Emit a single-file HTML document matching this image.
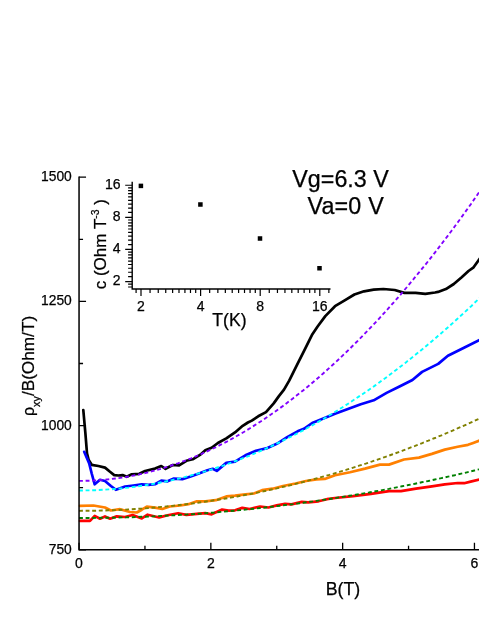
<!DOCTYPE html>
<html><head><meta charset="utf-8"><title>chart</title>
<style>html,body{margin:0;padding:0;background:#fff;}body{width:479px;height:620px;overflow:hidden;font-family:"Liberation Sans",sans-serif;}</style>
</head><body>
<svg width="479" height="620" viewBox="0 0 479 620" style="display:block;will-change:transform;opacity:0.999">
<rect width="479" height="620" fill="#fff"/>
<g>
<polyline points="83.3,410.0 85.4,433.4 87.0,453.4 88.7,460.0 91.7,464.8 98.4,466.0 105.0,467.6 110.0,471.8 114.2,475.1 118.4,475.5 122.6,475.1 126.7,476.8 131.8,474.3 139.3,473.8 145.1,471.0 155.0,468.6 161.3,466.0 165.5,468.8 172.8,465.0 179.1,465.4 186.4,460.8 192.7,459.3 200.0,454.9 205.3,450.3 211.6,447.8 217.9,443.0 226.3,438.4 235.0,432.4 242.7,425.8 247.9,422.5 251.8,420.6 258.2,416.3 266.0,412.1 273.7,403.4 278.9,396.1 284.0,389.7 289.2,380.6 296.9,365.2 304.7,349.7 312.4,334.2 317.6,326.5 325.3,316.1 335.0,306.2 344.7,300.3 354.4,294.5 364.0,291.3 373.7,289.7 383.4,289.0 394.7,290.0 404.4,292.9 415.6,292.9 425.3,293.9 435.0,292.5 438.0,291.9 445.9,289.1 453.8,284.0 461.7,277.2 468.5,271.0 473.6,267.3 480.0,258.4" fill="none" stroke="#000" stroke-width="2.7" stroke-linejoin="round" stroke-linecap="round"/>
<polyline points="84.2,451.8 89.2,463.4 91.7,473.5 94.7,484.3 100.0,479.8 105.0,481.0 110.9,486.0 115.9,489.8 125.1,486.5 133.4,485.5 141.8,484.3 148.5,484.8 155.0,484.2 161.3,480.7 167.6,481.3 173.9,478.6 182.3,479.2 190.6,476.5 199.0,473.4 207.4,470.2 212.7,468.8 216.8,470.9 226.3,462.9 235.0,461.7 245.4,455.3 255.9,450.7 266.3,448.4 276.8,443.8 287.2,437.2 297.6,431.3 303.9,428.8 312.2,423.0 322.7,418.8 335.0,413.8 347.9,409.0 360.8,404.2 373.7,400.3 386.6,392.9 399.5,386.5 412.4,380.0 422.1,371.9 438.2,363.9 447.9,355.8 464.0,347.7 480.0,339.8" fill="none" stroke="#0000ff" stroke-width="2.7" stroke-linejoin="round" stroke-linecap="round"/>
<polyline points="80.0,505.9 93.4,505.5 105.0,507.5 110.9,510.5 120.0,509.2 130.0,512.0 136.8,512.5 141.8,509.7 146.8,506.7 155.0,507.6 162.3,509.0 169.7,506.5 180.2,505.5 188.5,504.2 196.9,501.3 205.3,501.3 215.8,500.2 226.3,496.4 235.0,495.7 245.4,494.4 253.8,493.5 262.1,490.2 272.6,488.7 283.0,486.0 295.5,483.5 306.0,481.0 316.4,479.3 324.8,478.9 335.0,475.2 350.0,472.2 365.0,468.6 380.0,464.6 389.0,464.6 404.0,459.5 419.0,457.6 431.9,453.9 444.8,449.6 457.7,446.8 468.0,444.8 473.2,442.9 480.0,440.3" fill="none" stroke="#ff8000" stroke-width="2.7" stroke-linejoin="round" stroke-linecap="round"/>
<polyline points="80.0,520.9 90.0,520.9 94.7,515.9 100.0,518.7 105.0,516.4 110.0,518.7 116.7,516.4 125.0,517.0 132.6,515.0 141.8,518.4 147.6,514.7 155.0,516.5 159.2,517.4 167.6,515.3 178.1,513.2 186.4,514.9 196.9,513.8 205.3,513.2 211.6,514.3 222.1,509.6 228.4,510.7 235.0,510.3 242.3,507.9 249.6,509.0 260.0,506.5 268.4,507.5 276.8,505.4 285.1,503.8 291.4,504.4 301.8,501.9 308.1,502.3 318.5,501.3 326.9,499.2 335.0,498.0 353.0,496.2 371.0,493.8 389.0,491.1 401.0,491.1 416.0,488.7 431.9,486.3 444.8,484.4 457.7,483.0 464.2,483.2 470.6,481.6 480.0,479.5" fill="none" stroke="#ff0000" stroke-width="2.7" stroke-linejoin="round" stroke-linecap="round"/>
<polyline points="79.0,480.9 82.3,480.9 85.6,480.8 88.9,480.7 92.2,480.6 95.5,480.4 98.8,480.2 102.1,479.9 105.4,479.6 108.7,479.3 112.0,478.9 115.3,478.5 118.6,478.1 121.9,477.6 125.2,477.1 128.5,476.5 131.8,475.9 135.1,475.2 138.4,474.6 141.7,473.8 145.0,473.1 148.2,472.3 151.5,471.4 154.8,470.5 158.1,469.6 161.4,468.7 164.7,467.7 168.0,466.6 171.3,465.5 174.6,464.4 177.9,463.3 181.2,462.1 184.5,460.9 187.8,459.6 191.1,458.3 194.4,456.9 197.7,455.5 201.0,454.1 204.3,452.6 207.6,451.1 210.9,449.6 214.1,448.0 217.4,446.4 220.7,444.7 224.0,443.0 227.3,441.3 230.6,439.5 233.9,437.7 237.2,435.8 240.5,433.9 243.8,432.0 247.1,430.0 250.4,428.0 253.7,425.9 257.0,423.8 260.3,421.7 263.6,419.5 266.9,417.3 270.2,415.0 273.5,412.8 276.7,410.4 280.0,408.1 283.3,405.7 286.6,403.2 289.9,400.7 293.2,398.2 296.5,395.6 299.8,393.0 303.1,390.4 306.4,387.7 309.7,385.0 313.0,382.2 316.3,379.4 319.6,376.6 322.9,373.7 326.2,370.8 329.5,367.8 332.8,364.8 336.1,361.8 339.4,358.7 342.6,355.6 345.9,352.5 349.2,349.3 352.5,346.0 355.8,342.8 359.1,339.5 362.4,336.1 365.7,332.7 369.0,329.3 372.3,325.8 375.6,322.3 378.9,318.8 382.2,315.2 385.5,311.6 388.8,307.9 392.1,304.2 395.4,300.5 398.7,296.7 402.0,292.9 405.3,289.0 408.5,285.2 411.8,281.2 415.1,277.2 418.4,273.2 421.7,269.2 425.0,265.1 428.3,261.0 431.6,256.8 434.9,252.6 438.2,248.3 441.5,244.0 444.8,239.7 448.1,235.4 451.4,231.0 454.7,226.5 458.0,222.0 461.3,217.5 464.6,212.9 467.9,208.3 471.2,203.7 474.4,199.0 477.7,194.3 481.0,189.6" fill="none" stroke="#8000ff" stroke-width="1.9" stroke-dasharray="3.9 2.7"/>
<polyline points="79.0,490.5 82.3,490.5 85.6,490.4 88.9,490.4 92.2,490.3 95.5,490.2 98.8,490.0 102.1,489.8 105.4,489.6 108.7,489.4 112.0,489.2 115.3,488.9 118.6,488.6 121.9,488.3 125.2,487.9 128.5,487.6 131.8,487.1 135.1,486.7 138.4,486.3 141.7,485.8 145.0,485.3 148.2,484.7 151.5,484.2 154.8,483.6 158.1,483.0 161.4,482.3 164.7,481.7 168.0,481.0 171.3,480.3 174.6,479.5 177.9,478.8 181.2,478.0 184.5,477.2 187.8,476.3 191.1,475.4 194.4,474.5 197.7,473.6 201.0,472.7 204.3,471.7 207.6,470.7 210.9,469.7 214.1,468.6 217.4,467.5 220.7,466.4 224.0,465.3 227.3,464.1 230.6,462.9 233.9,461.7 237.2,460.5 240.5,459.2 243.8,457.9 247.1,456.6 250.4,455.3 253.7,453.9 257.0,452.5 260.3,451.1 263.6,449.7 266.9,448.2 270.2,446.7 273.5,445.2 276.7,443.6 280.0,442.0 283.3,440.4 286.6,438.8 289.9,437.2 293.2,435.5 296.5,433.8 299.8,432.1 303.1,430.3 306.4,428.5 309.7,426.7 313.0,424.9 316.3,423.0 319.6,421.1 322.9,419.2 326.2,417.3 329.5,415.3 332.8,413.3 336.1,411.3 339.4,409.2 342.6,407.2 345.9,405.1 349.2,403.0 352.5,400.8 355.8,398.6 359.1,396.4 362.4,394.2 365.7,392.0 369.0,389.7 372.3,387.4 375.6,385.1 378.9,382.7 382.2,380.3 385.5,377.9 388.8,375.5 392.1,373.0 395.4,370.5 398.7,368.0 402.0,365.5 405.3,362.9 408.5,360.3 411.8,357.7 415.1,355.1 418.4,352.4 421.7,349.7 425.0,347.0 428.3,344.2 431.6,341.5 434.9,338.7 438.2,335.8 441.5,333.0 444.8,330.1 448.1,327.2 451.4,324.3 454.7,321.3 458.0,318.3 461.3,315.3 464.6,312.3 467.9,309.2 471.2,306.2 474.4,303.0 477.7,299.9 481.0,296.7" fill="none" stroke="#00ffff" stroke-width="1.9" stroke-dasharray="3.9 2.7"/>
<polyline points="79.0,510.9 82.3,510.8 85.6,510.8 88.9,510.8 92.2,510.8 95.5,510.7 98.8,510.6 102.1,510.5 105.4,510.5 108.7,510.3 112.0,510.2 115.3,510.1 118.6,510.0 121.9,509.8 125.2,509.6 128.5,509.4 131.8,509.3 135.1,509.0 138.4,508.8 141.7,508.6 145.0,508.4 148.2,508.1 151.5,507.8 154.8,507.5 158.1,507.3 161.4,506.9 164.7,506.6 168.0,506.3 171.3,506.0 174.6,505.6 177.9,505.2 181.2,504.8 184.5,504.5 187.8,504.0 191.1,503.6 194.4,503.2 197.7,502.8 201.0,502.3 204.3,501.8 207.6,501.3 210.9,500.9 214.1,500.3 217.4,499.8 220.7,499.3 224.0,498.8 227.3,498.2 230.6,497.6 233.9,497.1 237.2,496.5 240.5,495.9 243.8,495.2 247.1,494.6 250.4,494.0 253.7,493.3 257.0,492.6 260.3,492.0 263.6,491.3 266.9,490.6 270.2,489.8 273.5,489.1 276.7,488.4 280.0,487.6 283.3,486.8 286.6,486.1 289.9,485.3 293.2,484.5 296.5,483.6 299.8,482.8 303.1,482.0 306.4,481.1 309.7,480.2 313.0,479.4 316.3,478.5 319.6,477.6 322.9,476.6 326.2,475.7 329.5,474.8 332.8,473.8 336.1,472.8 339.4,471.9 342.6,470.9 345.9,469.9 349.2,468.8 352.5,467.8 355.8,466.8 359.1,465.7 362.4,464.6 365.7,463.6 369.0,462.5 372.3,461.4 375.6,460.2 378.9,459.1 382.2,458.0 385.5,456.8 388.8,455.7 392.1,454.5 395.4,453.3 398.7,452.1 402.0,450.9 405.3,449.6 408.5,448.4 411.8,447.1 415.1,445.9 418.4,444.6 421.7,443.3 425.0,442.0 428.3,440.7 431.6,439.3 434.9,438.0 438.2,436.6 441.5,435.3 444.8,433.9 448.1,432.5 451.4,431.1 454.7,429.7 458.0,428.2 461.3,426.8 464.6,425.3 467.9,423.9 471.2,422.4 474.4,420.9 477.7,419.4 481.0,417.9" fill="none" stroke="#808000" stroke-width="1.9" stroke-dasharray="3.9 2.7"/>
<polyline points="79.0,518.0 82.3,518.0 85.6,518.0 88.9,518.0 92.2,518.0 95.5,517.9 98.8,517.9 102.1,517.8 105.4,517.8 108.7,517.7 112.0,517.7 115.3,517.6 118.6,517.5 121.9,517.4 125.2,517.4 128.5,517.3 131.8,517.2 135.1,517.1 138.4,516.9 141.7,516.8 145.0,516.7 148.2,516.6 151.5,516.4 154.8,516.3 158.1,516.1 161.4,515.9 164.7,515.8 168.0,515.6 171.3,515.4 174.6,515.2 177.9,515.0 181.2,514.8 184.5,514.6 187.8,514.4 191.1,514.2 194.4,514.0 197.7,513.7 201.0,513.5 204.3,513.2 207.6,513.0 210.9,512.7 214.1,512.5 217.4,512.2 220.7,511.9 224.0,511.6 227.3,511.3 230.6,511.0 233.9,510.7 237.2,510.4 240.5,510.1 243.8,509.8 247.1,509.4 250.4,509.1 253.7,508.7 257.0,508.4 260.3,508.0 263.6,507.7 266.9,507.3 270.2,506.9 273.5,506.5 276.7,506.1 280.0,505.7 283.3,505.3 286.6,504.9 289.9,504.5 293.2,504.1 296.5,503.6 299.8,503.2 303.1,502.8 306.4,502.3 309.7,501.8 313.0,501.4 316.3,500.9 319.6,500.4 322.9,499.9 326.2,499.5 329.5,499.0 332.8,498.5 336.1,497.9 339.4,497.4 342.6,496.9 345.9,496.4 349.2,495.8 352.5,495.3 355.8,494.7 359.1,494.2 362.4,493.6 365.7,493.0 369.0,492.5 372.3,491.9 375.6,491.3 378.9,490.7 382.2,490.1 385.5,489.5 388.8,488.9 392.1,488.2 395.4,487.6 398.7,487.0 402.0,486.3 405.3,485.7 408.5,485.0 411.8,484.4 415.1,483.7 418.4,483.0 421.7,482.3 425.0,481.6 428.3,481.0 431.6,480.3 434.9,479.5 438.2,478.8 441.5,478.1 444.8,477.4 448.1,476.6 451.4,475.9 454.7,475.2 458.0,474.4 461.3,473.6 464.6,472.9 467.9,472.1 471.2,471.3 474.4,470.5 477.7,469.7 481.0,468.9" fill="none" stroke="#008000" stroke-width="1.9" stroke-dasharray="3.9 2.7"/>
</g>
<path d="M79.05,176.50 V550.50 M78.35,549.8 H479" fill="none" stroke="#000" stroke-width="1.5"/>
<path d="M79.05,549.80 h7 M79.05,425.60 h7 M79.05,301.40 h7 M79.05,177.20 h7 M79.05,487.70 h4 M79.05,363.50 h4 M79.05,239.30 h4 M79.05,549.8 v-7 M210.85,549.8 v-7 M342.65,549.8 v-7 M474.45,549.8 v-7 M144.95,549.8 v-4 M276.75,549.8 v-4 M408.55,549.8 v-4" fill="none" stroke="#000" stroke-width="1.3"/>
<text x="71.8" y="553.7" font-family="Liberation Sans, sans-serif" stroke="#000" stroke-width="0.25" font-size="13.8" text-anchor="end">750</text>
<text x="71.8" y="429.5" font-family="Liberation Sans, sans-serif" stroke="#000" stroke-width="0.25" font-size="13.8" text-anchor="end">1000</text>
<text x="71.8" y="305.3" font-family="Liberation Sans, sans-serif" stroke="#000" stroke-width="0.25" font-size="13.8" text-anchor="end">1250</text>
<text x="71.8" y="181.1" font-family="Liberation Sans, sans-serif" stroke="#000" stroke-width="0.25" font-size="13.8" text-anchor="end">1500</text>
<text x="79.0" y="567.8" font-family="Liberation Sans, sans-serif" stroke="#000" stroke-width="0.25" font-size="14" text-anchor="middle">0</text>
<text x="210.9" y="567.8" font-family="Liberation Sans, sans-serif" stroke="#000" stroke-width="0.25" font-size="14" text-anchor="middle">2</text>
<text x="342.7" y="567.8" font-family="Liberation Sans, sans-serif" stroke="#000" stroke-width="0.25" font-size="14" text-anchor="middle">4</text>
<text x="474.5" y="567.8" font-family="Liberation Sans, sans-serif" stroke="#000" stroke-width="0.25" font-size="14" text-anchor="middle">6</text>
<text x="343" y="595" font-family="Liberation Sans, sans-serif" stroke="#000" stroke-width="0.25" font-size="17.8" text-anchor="middle">B(T)</text>
<text transform="translate(34,416) rotate(-90)" font-family="Liberation Sans, sans-serif" stroke="#000" stroke-width="0.25" font-size="17.2"><tspan font-size="16">ρ</tspan><tspan font-size="10.8" dy="5.8">xy</tspan><tspan dy="-5.8">/B(Ohm/T)</tspan></text>
<text x="292.3" y="186.7" font-family="Liberation Sans, sans-serif" stroke="#000" stroke-width="0.25" font-size="23.3">Vg=6.3 V</text>
<text x="307.4" y="213.7" font-family="Liberation Sans, sans-serif" stroke="#000" stroke-width="0.25" font-size="23.3" letter-spacing="0.2">Va=0 V</text>
<path d="M132.2,181.7 V289.0 M131.5,289.0 H330.5" fill="none" stroke="#000" stroke-width="1.4"/>
<path d="M141.00,289.0 v7 M200.60,289.0 v7 M260.20,289.0 v7 M319.80,289.0 v7 M136.09,289.0 v4 M150.06,289.0 v4 M158.25,289.0 v4 M165.74,289.0 v4 M172.62,289.0 v4 M178.99,289.0 v4 M184.92,289.0 v4 M190.47,289.0 v4 M195.69,289.0 v4 M209.66,289.0 v4 M217.85,289.0 v4 M225.34,289.0 v4 M232.22,289.0 v4 M238.59,289.0 v4 M244.52,289.0 v4 M250.07,289.0 v4 M255.29,289.0 v4 M269.26,289.0 v4 M277.45,289.0 v4 M284.94,289.0 v4 M291.82,289.0 v4 M298.19,289.0 v4 M304.12,289.0 v4 M309.67,289.0 v4 M314.89,289.0 v4 M328.86,289.0 v4 M132.2,281.55 h-7 M132.2,249.45 h-7 M132.2,217.35 h-7 M132.2,185.25 h-7 M132.2,287.00 h-4.1 M132.2,284.20 h-4.1 M132.2,276.67 h-4.1 M132.2,272.26 h-4.1 M132.2,268.23 h-4.1 M132.2,264.52 h-4.1 M132.2,261.09 h-4.1 M132.2,257.89 h-4.1 M132.2,254.90 h-4.1 M132.2,252.10 h-4.1 M132.2,244.57 h-4.1 M132.2,240.16 h-4.1 M132.2,236.13 h-4.1 M132.2,232.42 h-4.1 M132.2,228.99 h-4.1 M132.2,225.79 h-4.1 M132.2,222.80 h-4.1 M132.2,220.00 h-4.1 M132.2,212.47 h-4.1 M132.2,208.06 h-4.1 M132.2,204.03 h-4.1 M132.2,200.32 h-4.1 M132.2,196.89 h-4.1 M132.2,193.69 h-4.1 M132.2,190.70 h-4.1 M132.2,187.90 h-4.1" fill="none" stroke="#000" stroke-width="1.2"/>
<text x="141.0" y="310.8" font-family="Liberation Sans, sans-serif" stroke="#000" stroke-width="0.25" font-size="14" text-anchor="middle">2</text>
<text x="200.6" y="310.8" font-family="Liberation Sans, sans-serif" stroke="#000" stroke-width="0.25" font-size="14" text-anchor="middle">4</text>
<text x="260.2" y="310.8" font-family="Liberation Sans, sans-serif" stroke="#000" stroke-width="0.25" font-size="14" text-anchor="middle">8</text>
<text x="319.8" y="310.8" font-family="Liberation Sans, sans-serif" stroke="#000" stroke-width="0.25" font-size="14" text-anchor="middle">16</text>
<text x="120.6" y="285.4" font-family="Liberation Sans, sans-serif" stroke="#000" stroke-width="0.25" font-size="14" text-anchor="end">2</text>
<text x="120.6" y="253.3" font-family="Liberation Sans, sans-serif" stroke="#000" stroke-width="0.25" font-size="14" text-anchor="end">4</text>
<text x="120.6" y="221.2" font-family="Liberation Sans, sans-serif" stroke="#000" stroke-width="0.25" font-size="14" text-anchor="end">8</text>
<text x="120.6" y="189.2" font-family="Liberation Sans, sans-serif" stroke="#000" stroke-width="0.25" font-size="14" text-anchor="end">16</text>
<text x="212.3" y="325.8" font-family="Liberation Sans, sans-serif" stroke="#000" stroke-width="0.25" font-size="17.6">T(K)</text>
<text transform="translate(106.3,289.3) rotate(-90)" font-family="Liberation Sans, sans-serif" stroke="#000" stroke-width="0.25" font-size="17.05">c (Ohm T<tspan font-size="10.4" dy="-7">-3</tspan><tspan dy="7"> )</tspan></text>
<rect x="138.65" y="183.65" width="4.5" height="4.5" fill="#000"/>
<rect x="198.15" y="202.25" width="4.5" height="4.5" fill="#000"/>
<rect x="257.75" y="236.25" width="4.5" height="4.5" fill="#000"/>
<rect x="317.25" y="266.00" width="4.5" height="4.5" fill="#000"/>
</svg>
</body></html>
